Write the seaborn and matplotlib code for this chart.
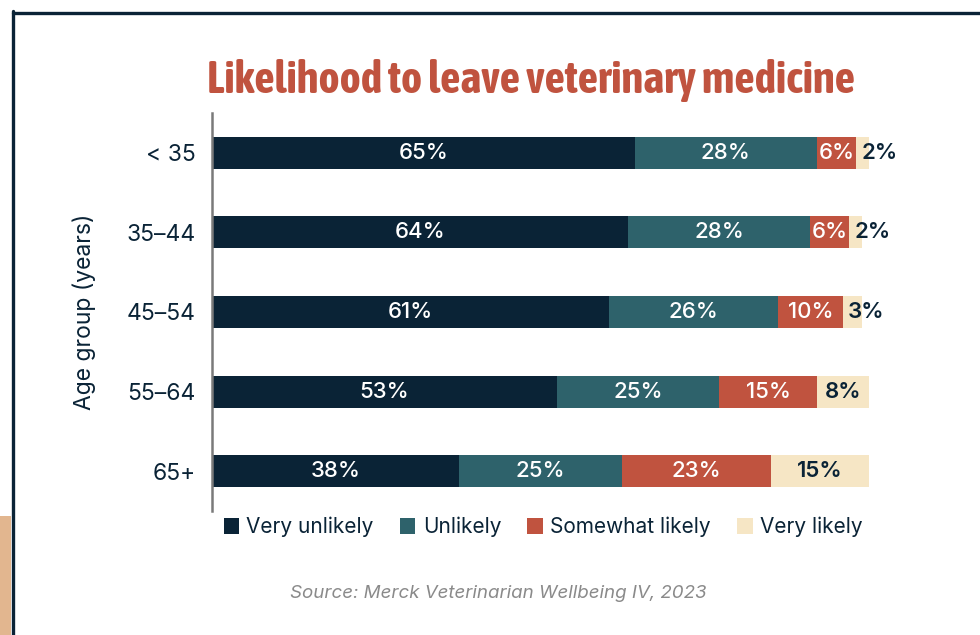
import numpy as np
import pandas as pd
import matplotlib
matplotlib.use('Agg')
import matplotlib.pyplot as plt
from matplotlib import font_manager
from matplotlib.patches import Patch, Rectangle
from matplotlib.lines import Line2D
import seaborn as sns

# data
age_groups = ['< 35', '35–44', '45–54', '55–64', '65+']
series = ['Very unlikely', 'Unlikely', 'Somewhat likely', 'Very likely']
very_unlikely = [65, 64, 61, 53, 38]
unlikely = [28, 28, 26, 25, 25]
somewhat_likely = [6, 6, 10, 15, 23]
very_likely = [2, 2, 3, 8, 15]

colors = ['#0a2336', '#2e626b', '#c0533f', '#f6e6c5']
text_colors = ['white', 'white', 'white', '#0a2336']
navy = '#0a2336'

sns.set_theme(style='white')
plt.rcParams['font.family'] = ['Inter', 'DejaVu Sans']

# title is set in a condensed bold face; use one if the machine has it
title_font, title_size, title_stretch = 'Roboto', 27, 'normal'
for f in font_manager.fontManager.ttflist:
    if ('Condensed' in f.name or 'Narrow' in f.name) and f.weight in (700, 'bold'):
        title_font, title_size = f.name, 32.3
        break
else:
    for f in font_manager.fontManager.ttflist:
        if f.stretch in ('condensed', 'semi-condensed', 600, 700) and f.weight in (700, 'bold'):
            title_font, title_size, title_stretch = f.name, 32.3, f.stretch
            break

df = pd.DataFrame({'age': age_groups, series[0]: very_unlikely, series[1]: unlikely,
                   series[2]: somewhat_likely, series[3]: very_likely})
cum = df[series].cumsum(axis=1)
for s in series:
    df['cum_' + s] = cum[s]

fig = plt.figure(figsize=(9.8, 6.35), dpi=100)
fig.patch.set_facecolor('white')
ax = fig.add_axes([212 / 980, 1 - 511 / 635, 657 / 980, 398 / 635])

# overlapping bars, longest first, gives the stacked look
for s, c in reversed(list(zip(series, colors))):
    sns.barplot(data=df, x='cum_' + s, y='age', color=c, saturation=1, width=0.4,
                orient='h', linewidth=0, edgecolor='none', ax=ax)

for i in range(len(age_groups)):
    for s, tc in zip(series, text_colors):
        v = df.loc[i, s]
        end = df.loc[i, 'cum_' + s]
        if v < 5:
            ax.text(end - v + 0.8, i, f'{v}%', ha='left', va='center', color=tc,
                    fontsize=16, fontweight='semibold')
        else:
            ax.text(end - v / 2, i, f'{v}%', ha='center', va='center', color=tc,
                    fontsize=16, fontweight='semibold' if s == 'Very likely' else 'medium')

ax.set_xlim(0, 101)
ax.set_ylim(4.5, -0.5)
ax.set_xlabel('')
ax.set_xticks([])
ax.set_ylabel('Age group (years)', fontsize=16.5, color=navy, labelpad=22)
ax.tick_params(axis='y', length=0, labelsize=16.5, labelcolor=navy, pad=12)
for sp in ['top', 'right', 'bottom']:
    ax.spines[sp].set_visible(False)
ax.spines['left'].set_color('#7a7a7a')
ax.spines['left'].set_linewidth(1.8)

handles = [Patch(facecolor=c, edgecolor='none', label=s) for s, c in zip(series, colors)]
fig.legend(handles=handles, loc='center', bbox_to_anchor=(543 / 980, 1 - 527 / 635), ncol=4,
           frameon=False, fontsize=15, handlelength=0.75, handleheight=0.8,
           handletextpad=0.35, columnspacing=1.25, labelcolor=navy)

fig.text(531 / 980, 1 - 81 / 635, 'Likelihood to leave veterinary medicine', ha='center',
         va='center', fontsize=title_size, fontweight='bold', color='#c0533f',
         family=title_font, fontstretch=title_stretch)
fig.text(498 / 980, 1 - 593 / 635, 'Source: Merck Veterinarian Wellbeing IV, 2023', ha='center',
         va='center', fontsize=13.5, style='italic', color='#8a8a8a')

# page frame
fig.add_artist(Rectangle((0, 0), 11 / 980, 119 / 635, transform=fig.transFigure,
                         facecolor='#e2b68f', edgecolor='none'))
fig.add_artist(Line2D([12.5 / 980, 1], [1 - 12.5 / 635, 1 - 12.5 / 635], transform=fig.transFigure,
                      color=navy, linewidth=2.4))
fig.add_artist(Line2D([12.5 / 980, 12.5 / 980], [0, 1 - 11 / 635], transform=fig.transFigure,
                      color=navy, linewidth=2.4))

fig.savefig('out.png', dpi=100, facecolor='white')
